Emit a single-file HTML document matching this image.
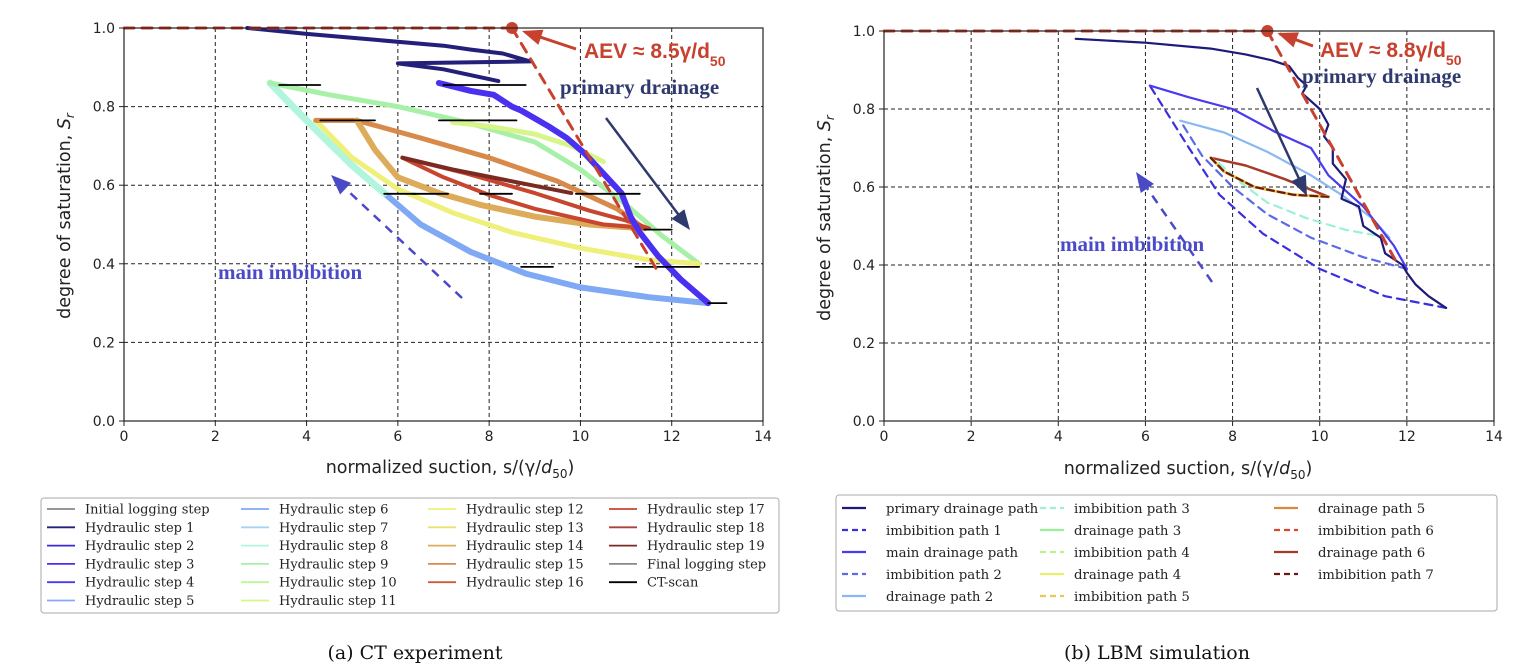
<!DOCTYPE html>
<html><head><meta charset="utf-8">
<style>
html,body{margin:0;padding:0;background:#fff;}
body{width:1538px;height:670px;overflow:hidden;position:relative;font-family:"DejaVu Sans","Liberation Sans",sans-serif;}
svg{position:absolute;left:0;top:0;}
.tick{font-size:14px;fill:#222;}
.ax{font-size:17.5px;fill:#222;}
.leg{font-family:"DejaVu Serif","Liberation Serif",serif;font-size:13px;fill:#222;}
.leg2{font-family:"DejaVu Serif","Liberation Serif",serif;font-size:13.3px;fill:#222;}
.cap{font-family:"DejaVu Serif","Liberation Serif",serif;font-size:19px;fill:#111;}
</style></head>
<body>
<svg id="fig" width="1538" height="670" viewBox="0 0 1538 670"></svg>
<script>
// ---------- Data: panel (a) CT experiment ----------
const ctXTicks = [0,2,4,6,8,10,12,14];
const ctYTicks = [0.0,0.2,0.4,0.6,0.8,1.0];
const ctStepNames = ["Initial logging step","Hydraulic step 1","Hydraulic step 2","Hydraulic step 3","Hydraulic step 4","Hydraulic step 5","Hydraulic step 6","Hydraulic step 7","Hydraulic step 8","Hydraulic step 9","Hydraulic step 10","Hydraulic step 11","Hydraulic step 12","Hydraulic step 13","Hydraulic step 14","Hydraulic step 15","Hydraulic step 16","Hydraulic step 17","Hydraulic step 18","Hydraulic step 19","Final logging step","CT-scan"];
const ctStepColors = ["#888","#24207a","#3a2ad8","#4a30f0","#4a3cf0","#8aa6ff","#7fa8f5","#a5d4f7","#b0f5dc","#a8f0a8","#bff59a","#d8f58a","#eef07a","#ece070","#dcac5a","#d88a4a","#cf5a3a","#c8452e","#a8453a","#7a2a20","#888","#000"];
const ctS1x=[2.7,4,5.5,7,7.6,8.3,8.9,6.0,7.0,7.6,8.2];
const ctS1y=[1.0,0.985,0.97,0.955,0.945,0.935,0.915,0.91,0.895,0.88,0.865];
const ctS2x=[6.9,7.6,8.1,8.5,8.7,9.0,9.3,9.7,10.1,10.5,10.9,11.1,11.3,11.7,12.2,12.8];
const ctS2y=[0.86,0.84,0.83,0.80,0.79,0.77,0.75,0.72,0.68,0.63,0.58,0.52,0.48,0.42,0.36,0.30];
const ctS5x=[12.8,11.5,10.0,8.8,7.6,6.5,5.7];
const ctS5y=[0.30,0.315,0.34,0.375,0.43,0.50,0.58];
const ctS8x=[5.7,5.0,4.3,3.7,3.2];
const ctS8y=[0.58,0.65,0.73,0.80,0.86];
const ctS9x=[3.2,4.5,6.0,7.5,9.0,10.0,11.0,11.8,12.6];
const ctS9y=[0.86,0.83,0.80,0.76,0.71,0.64,0.55,0.47,0.40];
const ctS10x=[7.2,8.0,9.0,9.8,10.5];
const ctS10y=[0.76,0.75,0.73,0.70,0.66];
const ctS12x=[12.6,11.5,10.0,8.5,7.2,6.0,5.0,4.2];
const ctS12y=[0.40,0.41,0.44,0.48,0.53,0.59,0.67,0.765];
const ctS14x=[4.2,5.1,6.5,8.0,9.5,10.8,11.4];
const ctS14y=[0.765,0.765,0.72,0.67,0.61,0.54,0.49];
const ctS15x=[11.4,10.2,9.0,7.8,6.9,6.0,5.5,5.1];
const ctS15y=[0.49,0.50,0.52,0.55,0.58,0.62,0.69,0.765];
const ctS17x=[6.1,7.5,9.0,10.2,11.0,11.5,10.5,9.0,8.0,7.0,6.1];
const ctS17y=[0.67,0.63,0.58,0.535,0.51,0.49,0.50,0.54,0.575,0.62,0.67];
const ctS19x=[6.1,7.2,8.5,9.8];
const ctS19y=[0.67,0.64,0.61,0.58];
const ctScanX1=[3.4,4.3,6.9,7.0,5.7,6.3,7.8,9.9,11.4,8.7,11.2,11.9,12.8];
const ctScanX2=[4.3,5.5,8.6,8.8,6.4,7.1,8.5,11.3,12.0,9.4,11.9,12.6,13.2];
const ctScanY=[0.855,0.765,0.765,0.855,0.578,0.578,0.578,0.578,0.487,0.392,0.392,0.392,0.30];
const ctAEV = 8.5;
// ---------- Data: panel (b) LBM simulation ----------
const lbNames=["primary drainage path","imbibition path 1","main drainage path","imbibition path 2","drainage path 2","imbibition path 3","drainage path 3","imbibition path 4","drainage path 4","imbibition path 5","drainage path 5","imbibition path 6","drainage path 6","imbibition path 7"];
const lbColors=["#1e1a7a","#3a2ee0","#4a3af0","#5a6ae8","#8ab8f2","#9af0d8","#9af09a","#c0f090","#e8f070","#e8c850","#d88a40","#d84a30","#a83a28","#6a1a10"];
const lbDash=[false,true,false,true,false,true,false,true,false,true,false,true,false,true];
const lbPx=[4.4,6,7.5,8.3,8.9,9.3,9.5,9.7,9.6,9.9,10.0,10.2,10.1,10.3,10.3,10.6,10.5,10.9,11.0,11.4,11.5,11.9,12.0,12.2,12.5,12.9];
const lbPy=[0.98,0.97,0.955,0.94,0.925,0.91,0.88,0.86,0.84,0.81,0.80,0.76,0.73,0.70,0.66,0.62,0.57,0.55,0.50,0.47,0.43,0.40,0.38,0.35,0.32,0.29];
const lbI1x=[12.9,11.5,10.0,8.7,7.7,7.0,6.1];
const lbI1y=[0.29,0.32,0.39,0.48,0.58,0.70,0.86];
const lbMx=[6.1,7.0,8.0,9.0,9.8,10.2,11.0,11.7,12.0];
const lbMy=[0.86,0.83,0.80,0.74,0.70,0.63,0.55,0.45,0.39];
const lbI2x=[12.0,11.0,9.8,8.8,8.0,7.3,6.8];
const lbI2y=[0.39,0.42,0.47,0.53,0.60,0.68,0.77];
const lbD2x=[6.8,7.8,8.8,9.8,10.5,11.2,11.6];
const lbD2y=[0.77,0.74,0.69,0.63,0.58,0.52,0.47];
const lbI3x=[11.6,10.6,9.7,8.8,8.2,7.6];
const lbI3y=[0.47,0.49,0.52,0.56,0.61,0.67];
const lbD6x=[7.5,8.3,9.2,10.2];
const lbD6y=[0.675,0.655,0.62,0.575];
const lbI7x=[10.2,9.4,8.5,7.8,7.5];
const lbI7y=[0.575,0.58,0.60,0.64,0.675];
const lbAEV = 8.8;

const NS="http://www.w3.org/2000/svg";
const svg=document.getElementById('fig');
function mk(tag,attrs,parent){const e=document.createElementNS(NS,tag);for(const k in attrs)e.setAttribute(k,attrs[k]);(parent||svg).appendChild(e);return e;}
function axes(x0,x1,y0,y1){return {sx:v=>x0+(x1-x0)*v/14, sy:v=>y1-(y1-y0)*v};}
function pathD(ax,xs,ys){return xs.map((x,i)=>(i?'L':'M')+ax.sx(x).toFixed(1)+','+ax.sy(ys[i]).toFixed(1)).join(' ');}
function sub(t,s,size,dy){const ts=mk('tspan',{'font-size':size,dy:dy},t);ts.textContent=s;return ts;}
function plain(t,s,dy){const ts=mk('tspan',{dy:dy||0},t);ts.textContent=s;return ts;}

function panel(id,x0,x1,y0,y1,xt,yt){
  const g=mk('g',{});
  
  
  const ax=axes(x0,x1,y0,y1);
  xt.forEach(v=>{const l=mk('line',{x1:ax.sx(v),x2:ax.sx(v),y1:y0,y2:y1,stroke:'#222','stroke-width':1,'stroke-dasharray':'4,3'},g);
    
    mk('line',{x1:ax.sx(v),x2:ax.sx(v),y1:y1,y2:y1+5,stroke:'#222'},g);
    const t=mk('text',{x:ax.sx(v),y:y1+20,'text-anchor':'middle',class:'tick'},g);t.textContent=v;
    });
  yt.forEach(v=>{const l=mk('line',{x1:x0,x2:x1,y1:ax.sy(v),y2:ax.sy(v),stroke:'#222','stroke-width':1,'stroke-dasharray':'4,3'},g);
    
    mk('line',{x1:x0-5,x2:x0,y1:ax.sy(v),y2:ax.sy(v),stroke:'#222'},g);
    const t=mk('text',{x:x0-9,y:ax.sy(v)+5,'text-anchor':'end',class:'tick'},g);t.textContent=v.toFixed(1);
    });
  return {g,ax};
}
function frame(g,x0,x1,y0,y1){const r=mk('rect',{x:x0,y:y0,width:x1-x0,height:y1-y0,fill:'none',stroke:'#222','stroke-width':1.2},g);}
function curve(g,ax,xs,ys,color,w,dash,name){const p=mk('path',{d:pathD(ax,xs,ys),fill:'none',stroke:color,'stroke-width':w,'stroke-linejoin':'round','stroke-linecap':'round'},g);if(dash)p.setAttribute('stroke-dasharray',dash);return p;}
function txt(g,x,y,s,attrs,name){const t=mk('text',Object.assign({x,y},attrs),g);if(s)t.textContent=s;return t;}
function arrow(g,xa,ya,xb,yb,color,w,dash,name){
  const p=mk('line',{x1:xa,y1:ya,x2:xb-(xb-xa)*0.06,y2:yb-(yb-ya)*0.06,stroke:color,'stroke-width':w},g);if(dash)p.setAttribute('stroke-dasharray',dash);
  
  const a=Math.atan2(yb-ya,xb-xa),L=20,W=8;
  mk('polygon',{points:`${xb},${yb} ${xb-L*Math.cos(a)+W*Math.sin(a)},${yb-L*Math.sin(a)-W*Math.cos(a)} ${xb-L*Math.cos(a)-W*Math.sin(a)},${yb-L*Math.sin(a)+W*Math.cos(a)}`,fill:color},g);
}
function aevLabel(g,x,y,s){
  const t=txt(g,x,y,null,{fill:'#c8402e','font-size':'21px','font-family':'"Liberation Sans",sans-serif','font-weight':'bold'},'aev-label');
  plain(t,s);sub(t,'50','14px',8);
}
function xTitle(g,cx,y){
  const t=txt(g,cx,y,null,{class:'ax','text-anchor':'middle'},'x-axis-title');
  plain(t,'normalized suction, s/(γ/');
  const d=mk('tspan',{'font-style':'italic'},t);d.textContent='d';
  sub(t,'50','12px',5);plain(t,')',-5);
}
function yTitle(g,x,y){
  const t=txt(g,0,0,null,{class:'ax','text-anchor':'middle',transform:`translate(${x},${y}) rotate(-90)`},'y-axis-title');
  plain(t,'degree of saturation, ');
  const s=mk('tspan',{'font-style':'italic'},t);s.textContent='S';
  const r=mk('tspan',{'font-style':'italic','font-size':'12px',dy:4},t);r.textContent='r';
}

// ----- Panel A -----
(function(){
  const X0=124,X1=763,Y0=28,Y1=421;
  const {g,ax}=panel('ct',X0,X1,Y0,Y1,ctXTicks,ctYTicks);
  const W=6;
  curve(g,ax,ctS5x,ctS5y,ctStepColors[6],W,null,'hydraulic-step-6-curve');
  curve(g,ax,ctS8x,ctS8y,ctStepColors[8],W+1,null,'hydraulic-step-8-curve');
  curve(g,ax,ctS9x,ctS9y,ctStepColors[9],5,null,'hydraulic-step-9-curve');
  curve(g,ax,ctS10x,ctS10y,ctStepColors[11],5,null,'hydraulic-step-10-curve');
  curve(g,ax,ctS12x,ctS12y,ctStepColors[12],5,null,'hydraulic-step-12-curve');
  curve(g,ax,ctS14x,ctS14y,ctStepColors[15],5,null,'hydraulic-step-15-curve');
  curve(g,ax,ctS15x,ctS15y,ctStepColors[14],6,null,'hydraulic-step-14-curve');
  curve(g,ax,ctS17x,ctS17y,ctStepColors[17],4,null,'hydraulic-step-17-curve');
  curve(g,ax,ctS19x,ctS19y,ctStepColors[19],4,null,'hydraulic-step-19-curve');
  curve(g,ax,ctS2x,ctS2y,ctStepColors[3],6,null,'hydraulic-step-2-curve');
  curve(g,ax,ctS1x,ctS1y,ctStepColors[1],4,null,'hydraulic-step-1-curve');
  ctScanY.forEach((y,i)=>{curve(g,ax,[ctScanX1[i],ctScanX2[i]],[y,y],'#000',1.8,null,'ct-scan-marker');});
  curve(g,ax,[0,ctAEV],[1,1],'#c8402e',3,'10,8','aev-horizontal-line');
  curve(g,ax,[ctAEV,11.7],[1,0.38],'#c8402e',3,'10,8','aev-tangent-line');
  const d=mk('circle',{cx:ax.sx(ctAEV),cy:ax.sy(1),r:6,fill:'#c8402e'},g);
  arrow(g,576,49,ax.sx(ctAEV)+10,ax.sy(1)+3,'#c8402e',3,null,'aev-arrow');
  aevLabel(g,584,58,'AEV ≈ 8.5γ/d');
  txt(g,560,94,'primary drainage',{fill:'#2e3a6e','font-size':'21px','font-family':'"Liberation Serif",serif','font-weight':'bold'},'primary-drainage-label');
  arrow(g,606,118,690,230,'#2e3a6e',2.5,null,'primary-drainage-arrow');
  txt(g,218,279,'main imbibition',{fill:'#4a4ac8','font-size':'21px','font-family':'"Liberation Serif",serif','font-weight':'bold'},'main-imbibition-label');
  arrow(g,462,298,331,175,'#4a4ac8',2.5,'9,7','main-imbibition-arrow');
  frame(g,X0,X1,Y0,Y1);
  xTitle(g,450,473);
  yTitle(g,70,216);
  const lg=mk('g',{},g);
  mk('rect',{x:41,y:498,width:738,height:115,fill:'#fff',stroke:'#aaa','stroke-width':1,rx:3},lg);
  const colX=[47,241,428,609],rowY=509,dy=18.3,per=[6,6,5,5];
  let k=0;
  per.forEach((n,c)=>{for(let r=0;r<n;r++){const y=rowY+r*dy;
    const l=mk('line',{x1:colX[c],x2:colX[c]+28,y1:y,y2:y,stroke:ctStepColors[k],'stroke-width':1.8},lg);
    
    txt(lg,colX[c]+38,y+4.5,ctStepNames[k],{class:'leg'},'legend-entry');k++;}});
  txt(g,415,659,'(a) CT experiment',{class:'cap','text-anchor':'middle'},'caption-a');
})();

// ----- Panel B -----
(function(){
  const X0=884,X1=1494,Y0=31,Y1=421;
  const {g,ax}=panel('lbm',X0,X1,Y0,Y1,ctXTicks,ctYTicks);
  curve(g,ax,lbI1x,lbI1y,lbColors[1],2.2,'8,6','imbibition-path-1');
  curve(g,ax,lbI2x,lbI2y,lbColors[3],2.2,'8,6','imbibition-path-2');
  curve(g,ax,lbI3x,lbI3y,lbColors[5],2.2,'8,6','imbibition-path-3');
  curve(g,ax,lbD2x,lbD2y,lbColors[4],2.2,null,'drainage-path-2');
  curve(g,ax,lbMx,lbMy,lbColors[2],2.2,null,'main-drainage-path');
  curve(g,ax,lbD6x,lbD6y,lbColors[12],2.5,null,'drainage-path-6');
  curve(g,ax,lbI7x,lbI7y,lbColors[9],3,null,'imbibition-path-5');
  curve(g,ax,lbI7x,lbI7y,lbColors[13],2.2,'7,4','imbibition-path-7');
  curve(g,ax,lbPx,lbPy,lbColors[0],2.2,null,'primary-drainage-path');
  curve(g,ax,[0,lbAEV],[1,1],'#c8402e',3,'10,8','aev-horizontal-line');
  curve(g,ax,[lbAEV,11.8],[1,0.40],'#c8402e',3,'10,8','aev-tangent-line');
  const d=mk('circle',{cx:ax.sx(lbAEV),cy:ax.sy(1),r:6,fill:'#c8402e'},g);
  arrow(g,1313,46,ax.sx(lbAEV)+10,ax.sy(1)+2,'#c8402e',3,null,'aev-arrow');
  aevLabel(g,1320,57,'AEV ≈ 8.8γ/d');
  txt(g,1302,83,'primary drainage',{fill:'#2e3a6e','font-size':'21px','font-family':'"Liberation Serif",serif','font-weight':'bold'},'primary-drainage-label');
  arrow(g,1257,88,1307,196,'#2e3a6e',2.5,null,'primary-drainage-arrow');
  txt(g,1060,251,'main imbibition',{fill:'#4a4ac8','font-size':'21px','font-family':'"Liberation Serif",serif','font-weight':'bold'},'main-imbibition-label');
  arrow(g,1212,282,1136,172,'#4a4ac8',2.5,'9,7','main-imbibition-arrow');
  frame(g,X0,X1,Y0,Y1);
  xTitle(g,1188,474);
  yTitle(g,830,218);
  const lg=mk('g',{},g);
  mk('rect',{x:836,y:495,width:661,height:116,fill:'#fff',stroke:'#aaa','stroke-width':1,rx:3},lg);
  const colX=[842,1040,1274],txtOff=[44,34,44],rowY=508,dy=22,per=[5,5,4];
  let k=0;
  per.forEach((n,c)=>{for(let r=0;r<n;r++){const y=rowY+r*dy;
    const l=mk('line',{x1:colX[c],x2:colX[c]+24,y1:y,y2:y,stroke:lbColors[k],'stroke-width':2.2},lg);
    if(lbDash[k])l.setAttribute('stroke-dasharray','6,4');
    
    txt(lg,colX[c]+txtOff[c],y+5,lbNames[k],{class:'leg2'},'legend-entry');k++;}});
  txt(g,1157,659,'(b) LBM simulation',{class:'cap','text-anchor':'middle'},'caption-b');
})();
</script>
</body></html>
